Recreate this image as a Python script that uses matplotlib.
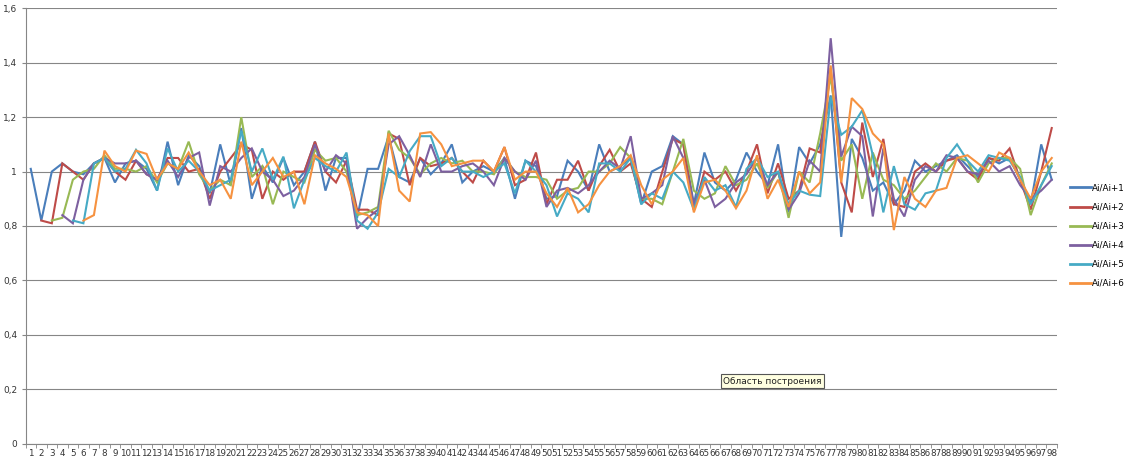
import numpy as np
import matplotlib
matplotlib.use("Agg")
import matplotlib.pyplot as plt
from matplotlib.ticker import FuncFormatter, MultipleLocator, FixedLocator

nan = np.nan
idx = list(range(1, 99))

s1 = [1.01,0.82,1.00,1.03,1.00,0.99,1.03,1.05,0.96,1.03,1.04,1.01,0.93,1.11,0.95,1.06,1.02,0.92,1.10,0.95,
      1.16,0.90,1.02,0.96,1.05,0.95,1.00,1.11,0.93,1.05,1.05,0.83,1.01,1.01,1.13,0.98,0.96,1.05,0.99,1.03,
      1.10,0.96,1.00,1.02,1.00,1.05,0.90,1.04,1.02,0.90,0.91,1.04,1.00,0.93,1.10,1.00,1.02,1.05,0.88,1.00,
      1.02,1.13,1.10,0.88,1.07,0.96,0.93,0.97,1.07,1.00,0.95,1.10,0.85,1.09,1.03,1.10,1.28,0.76,1.12,1.05,
      0.93,0.96,0.88,0.93,1.04,1.00,1.02,1.04,1.06,1.02,0.98,1.05,1.03,1.05,0.97,0.88,1.10,0.97]
s2 = [nan,0.82,0.81,1.03,1.00,0.97,1.03,1.05,1.00,0.97,1.04,0.99,0.97,1.05,1.05,1.00,1.01,0.90,1.00,1.05,
      1.10,1.08,0.90,1.00,0.97,1.00,1.00,1.11,1.00,0.96,1.04,0.86,0.86,0.84,1.14,1.12,0.95,1.05,1.02,1.03,
      1.05,1.00,0.96,1.04,1.00,1.09,0.95,0.97,1.07,0.88,0.97,0.97,1.04,0.93,1.02,1.08,1.00,1.03,0.90,0.87,
      1.00,1.12,1.10,0.86,1.00,0.97,1.00,0.93,1.00,1.10,0.92,1.03,0.90,0.93,1.085,1.07,1.38,0.96,0.85,1.18,
      0.98,1.12,0.88,0.87,1.00,1.03,1.00,1.04,1.05,1.00,0.97,1.05,1.04,1.085,0.97,0.86,1.00,1.16]
s3 = [nan,nan,0.82,0.83,0.97,1.00,1.01,1.06,1.01,1.01,1.00,1.02,0.96,1.03,1.01,1.11,0.99,0.93,0.97,0.95,
      1.20,0.98,1.02,0.88,1.00,0.98,0.96,1.08,1.04,1.05,1.00,0.84,0.85,0.87,1.15,1.08,1.05,0.99,1.03,1.05,
      1.03,1.04,1.00,1.00,0.99,1.05,1.00,0.98,0.98,0.97,0.90,0.93,0.94,1.00,1.00,1.03,1.09,1.05,0.90,0.90,
      0.88,1.00,1.12,0.93,0.90,0.92,1.02,0.95,0.97,1.03,0.94,1.00,0.83,1.00,0.96,1.14,1.35,1.04,1.10,0.90,
      1.07,0.97,0.95,0.90,0.93,0.98,1.03,1.00,1.05,1.04,0.96,1.03,1.05,1.05,1.01,0.84,0.95,1.03]
s4 = [nan,nan,nan,0.84,0.81,0.97,1.03,1.05,1.03,1.03,1.04,0.99,0.97,1.04,0.98,1.05,1.07,0.875,1.02,1.00,
      1.05,1.085,1.00,0.97,0.91,0.93,0.98,1.10,1.00,1.06,1.03,0.79,0.83,0.86,1.10,1.13,1.06,0.98,1.10,1.00,
      1.00,1.02,1.03,1.00,0.95,1.05,1.00,0.97,1.04,0.87,0.93,0.94,0.92,0.95,1.00,1.04,1.01,1.13,0.90,0.92,
      0.95,1.13,1.05,0.88,0.97,0.87,0.90,0.96,0.99,1.05,0.95,1.00,0.86,0.92,1.04,1.00,1.49,1.055,1.165,1.13,
      0.835,1.085,0.90,0.835,0.97,1.02,1.00,1.06,1.05,1.00,0.99,1.04,1.00,1.02,0.95,0.90,0.93,0.97]
s5 = [nan,nan,nan,nan,0.82,0.81,1.03,1.05,1.00,1.01,1.08,1.03,0.93,1.085,1.00,1.04,1.00,0.93,0.95,0.97,
      1.15,1.00,1.085,0.97,1.055,0.865,0.97,1.05,1.02,1.00,1.07,0.82,0.79,0.85,1.01,0.98,1.075,1.13,1.13,1.02,
      1.05,1.00,1.00,0.98,1.00,1.03,0.92,1.04,1.00,0.95,0.835,0.92,0.90,0.85,1.03,1.03,1.00,1.05,0.88,0.92,
      0.90,1.00,0.96,0.86,0.98,0.93,0.95,0.87,1.01,1.05,0.98,1.00,0.88,0.93,0.915,0.91,1.275,1.135,1.165,1.225,
      1.06,0.85,1.02,0.88,0.86,0.92,0.93,1.05,1.10,1.04,1.00,1.06,1.05,1.04,0.98,0.88,0.95,1.02]
s6 = [nan,nan,nan,nan,nan,0.82,0.84,1.077,1.02,1.00,1.077,1.065,0.97,1.03,1.01,1.07,1.00,0.95,0.97,0.90,
      1.11,0.95,1.00,1.05,0.98,1.00,0.88,1.06,1.03,1.01,0.98,0.85,0.84,0.80,1.14,0.93,0.89,1.14,1.145,1.10,
      1.02,1.03,1.04,1.04,1.00,1.09,0.97,1.00,1.00,0.92,0.87,0.94,0.85,0.88,0.95,1.00,1.02,1.06,0.95,0.88,
      0.97,1.00,1.05,0.85,0.96,0.97,0.93,0.865,0.93,1.06,0.90,0.97,0.87,1.00,0.92,0.96,1.39,0.96,1.27,1.23,
      1.14,1.10,0.785,0.98,0.90,0.87,0.93,0.94,1.05,1.06,1.03,1.00,1.07,1.05,0.97,0.90,1.00,1.05]

names = ["Ai/Ai+1", "Ai/Ai+2", "Ai/Ai+3", "Ai/Ai+4", "Ai/Ai+5", "Ai/Ai+6"]
colors = ["#4A7EBB", "#BE4B48", "#98B954", "#7D60A0", "#46AAC5", "#F69240"]
series = [s1, s2, s3, s4, s5, s6]

fig = plt.figure(figsize=(11.25, 4.68), dpi=100)
ax = fig.add_axes([25.5/1125, 1-443.7/468, (1057-25.5)/1125, (443.7-8.3)/468])

for s, c, n in zip(series, colors, names):
    ax.plot(idx, s, color=c, lw=1.5, label=n, solid_joinstyle="miter")

ax.set_xlim(0.5, 98.5)
ax.set_ylim(0, 1.6)
ax.yaxis.set_major_locator(MultipleLocator(0.2))
ax.yaxis.set_major_formatter(FuncFormatter(lambda v, p: ("%g" % round(v, 1)).replace(".", ",")))
ax.set_xticks(idx)
ax.set_xticklabels([str(i) for i in idx])
ax.xaxis.set_minor_locator(FixedLocator(np.arange(0.5, 99, 1)))
ax.tick_params(axis="x", which="major", length=0, labelsize=6.3, pad=4, colors="#333333")
ax.tick_params(axis="x", which="minor", length=3, color="#868686", direction="out")
ax.tick_params(axis="y", which="major", length=3, color="#868686", labelsize=6.5, colors="#333333", pad=3)
ax.tick_params(axis="y", colors="#868686", labelcolor="#333333")
ax.grid(axis="y", color="#868686", lw=0.8)
ax.set_axisbelow(True)
for sp in ["top", "right"]:
    ax.spines[sp].set_visible(False)
for sp in ["left", "bottom"]:
    ax.spines[sp].set_color("#868686")
    ax.spines[sp].set_linewidth(0.8)

leg = fig.legend(loc="upper left", bbox_to_anchor=(1066/1125, 1-180/468), frameon=False,
                 fontsize=6.3, handlelength=2.4, handletextpad=0.2, labelspacing=1.15,
                 borderaxespad=0)
for line in leg.get_lines():
    line.set_linewidth(2.0)

fig.text(723/1125, 1-381/468, "Область построения", fontsize=6.5, va="center", ha="left",
         color="#222222",
         bbox=dict(boxstyle="square,pad=0.25", fc="#FFFFE1", ec="#555555", lw=0.8))

fig.savefig("out.png", dpi=100)
